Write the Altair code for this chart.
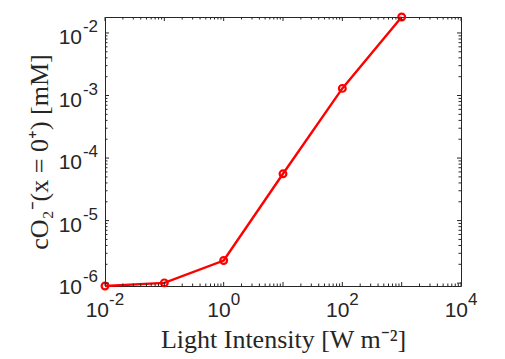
import altair as alt
import pandas as pd

# Data
intensity = [0.01, 0.1, 1, 10, 100, 1000]
conc = [9.0e-7, 1.01e-6, 2.3e-6, 5.6e-5, 1.3e-3, 1.8e-2]

# Tick positions and tick-label exponents
x_major = [1e-2, 1e-1, 1e0, 1e1, 1e2, 1e3, 1e4]
x_label_vals = [1e-2, 1e0, 1e2, 1e4]
x_label_exp = ["-2", "0", "2", "4"]
y_major = [1e-6, 1e-5, 1e-4, 1e-3, 1e-2]
y_label_exp = ["-6", "-5", "-4", "-3", "-2"]

W, H = 356, 269
AX = "#262626"
SANS = "Liberation Sans"
SERIF = "Liberation Serif"

xdom = [1e-2, 1e4]
ydom = [min(conc), max(conc)]

df = pd.DataFrame({"I": intensity, "c": conc})

xminor = [m * 10.0 ** k for k in range(-2, 4) for m in range(2, 10)]
yminor = [m * 10.0 ** k for k in range(-7, -1) for m in range(2, 10)]
yminor = [v for v in yminor if ydom[0] < v < ydom[1]]

xs = alt.Scale(type="log", domain=xdom, nice=False)
ys = alt.Scale(type="log", domain=ydom, nice=False)

xaxis = alt.Axis(labels=False, ticks=False, domain=False, grid=False,
                 title="Light Intensity [W m\u207b\u00b2]", titleFont=SERIF,
                 titleFontSize=26, titleFontWeight="normal", titleColor=AX,
                 titleBaseline="alphabetic", titleY=61)
yaxis = alt.Axis(labels=False, ticks=False, domain=False, grid=False,
                 title="cO\u2082\u207b(x = 0\u207a) [mM]", titleFont=SERIF,
                 titleFontSize=26, titleFontWeight="normal", titleColor=AX,
                 titleBaseline="alphabetic", titleX=-58, titleY=H / 2, titleAngle=270)

base = alt.Chart(df)
line = base.mark_line(color="#ff0000", strokeWidth=2.4).encode(
    x=alt.X("I:Q", scale=xs, axis=xaxis),
    y=alt.Y("c:Q", scale=ys, axis=yaxis),
)
pts = base.mark_point(color="#ff0000", filled=False, size=46, strokeWidth=2.2, opacity=1).encode(
    x=alt.X("I:Q", scale=xs), y=alt.Y("c:Q", scale=ys)
)


def xticks(vals, length):
    d = pd.DataFrame({"v": vals})
    b = alt.Chart(d).mark_rule(color=AX, strokeWidth=1)
    bot = b.encode(x=alt.X("v:Q", scale=xs), y=alt.value(H), y2=alt.value(H - length))
    top = b.encode(x=alt.X("v:Q", scale=xs), y=alt.value(0), y2=alt.value(length))
    return [bot, top]


def yticks(vals, length):
    d = pd.DataFrame({"v": vals})
    b = alt.Chart(d).mark_rule(color=AX, strokeWidth=1)
    left = b.encode(y=alt.Y("v:Q", scale=ys), x=alt.value(0), x2=alt.value(length))
    right = b.encode(y=alt.Y("v:Q", scale=ys), x=alt.value(W), x2=alt.value(W - length))
    return [left, right]


# Tick labels of the form 10^k (base + raised exponent)
xl = alt.Chart(pd.DataFrame({"v": x_label_vals, "e": x_label_exp}))
x_text = []
for cond, dx in [("indexof(datum.e, '-') == 0", 4), ("indexof(datum.e, '-') != 0", 7)]:
    sub = xl.transform_filter(cond)
    x_text.append(sub.mark_text(align="right", baseline="alphabetic", dx=dx, font=SANS,
                                fontSize=21, color=AX).encode(
        x=alt.X("v:Q", scale=xs), y=alt.value(H + 31), text=alt.value("10")))
    x_text.append(sub.mark_text(align="left", baseline="alphabetic", dx=dx, font=SANS,
                                fontSize=17, color=AX).encode(
        x=alt.X("v:Q", scale=xs), y=alt.value(H + 19), text="e:N"))

yl = alt.Chart(pd.DataFrame({"v": y_major, "e": y_label_exp}))
y_text = [
    yl.mark_text(align="right", baseline="alphabetic", dy=11, font=SANS, fontSize=21,
                 color=AX).encode(y=alt.Y("v:Q", scale=ys), x=alt.value(-23), text=alt.value("10")),
    yl.mark_text(align="right", baseline="alphabetic", dy=-1, font=SANS, fontSize=17,
                 color=AX).encode(y=alt.Y("v:Q", scale=ys), x=alt.value(-7), text="e:N"),
]

layers = ([line, pts] + xticks(x_major, 4) + xticks(xminor, 2.5) + yticks(y_major, 4)
          + yticks(yminor, 2.5) + x_text + y_text)

chart = alt.layer(*layers).properties(
    width=W, height=H,
    autosize=alt.AutoSizeParams(type="none"),
    padding={"left": 97, "top": 9, "right": 36, "bottom": 74},
    background="white",
).configure_view(stroke=AX, strokeWidth=1)

chart.save("out.html", embed_options={"renderer": "svg", "actions": False})
